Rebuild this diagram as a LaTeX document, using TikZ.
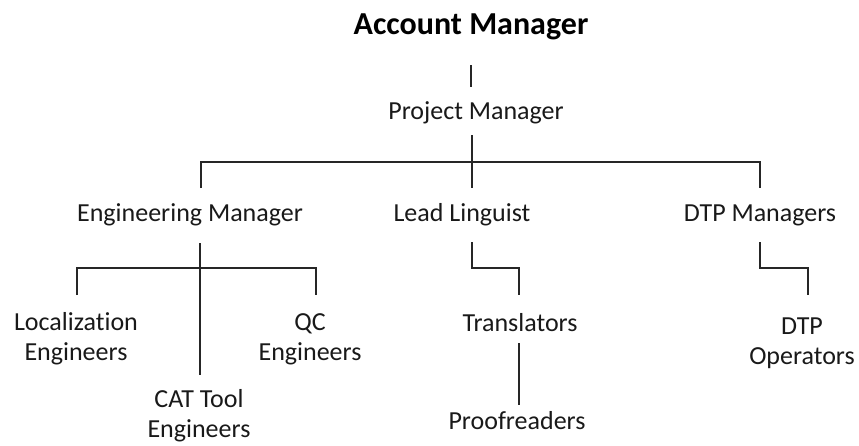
\documentclass[tikz,border=0pt]{standalone}
\usepackage{fontspec}
\setmainfont[Ligatures=NoCommon]{Carlito}
\begin{document}
\begin{tikzpicture}[x=1pt,y=-1pt,
  role/.style={inner sep=0pt, align=center, text=black!90,
    font=\fontsize{26}{30}\selectfont},
  head/.style={inner sep=0pt, font=\bfseries\fontsize{32}{36}\selectfont},
  link/.style={draw=black!85, line width=2pt}]
\useasboundingbox (0,0) rectangle (859,445);

% staff titles
\node[head] (am) at (471,27) {Account Manager};
\node[role] (pm) at (476,113) {Project Manager};
\node[role] (em) at (190,215) {Engineering Manager};
\node[role] (ll) at (462,215) {Lead Linguist};
\node[role] (dm) at (760,215) {DTP Managers};
\node[role] (le) at (76,339) {Localization\\Engineers};
\node[role] (qc) at (310,339) {QC\\Engineers};
\node[role] (ct) at (199,416) {CAT Tool\\Engineers};
\node[role] (tr) at (520,323) {Translators};
\node[role] (pr) at (517,421) {Proofreaders};
\node[role] (dp) at (802,343) {DTP\\Operators};

% junction points of the reporting lines
\coordinate (pmOut) at (472,135);
\coordinate (bus)   at (472,162);
\coordinate (emIn)  at (201,188);
\coordinate (llIn)  at (472,188);
\coordinate (dmIn)  at (760,188);
\coordinate (emOut) at (200,243);
\coordinate (emBus) at (200,268);
\coordinate (leIn)  at (77,295);
\coordinate (qcIn)  at (316,295);
\coordinate (ctIn)  at (200,375);
\coordinate (llOut) at (472,242);
\coordinate (trIn)  at (519,295);
\coordinate (trOut) at (519,343);
\coordinate (prIn)  at (519,405);
\coordinate (dmOut) at (760,242);
\coordinate (dpIn)  at (808,295);

% account manager to project manager
\draw[link, shorten <=25pt, shorten >=26pt] (am) -- (am |- pm);
% project manager to the three managers
\draw[link] (pmOut) -- (llIn);
\draw[link] (emIn) |- (bus) -| (dmIn);
% engineering team
\draw[link] (emOut) -- (ctIn);
\draw[link] (leIn) |- (emBus) -| (qcIn);
% linguistic team
\draw[link] (llOut) |- (trIn |- emBus) -- (trIn);
\draw[link] (trOut) -- (prIn);
% DTP team
\draw[link] (dmOut) |- (dpIn |- emBus) -- (dpIn);
\end{tikzpicture}
\end{document}
